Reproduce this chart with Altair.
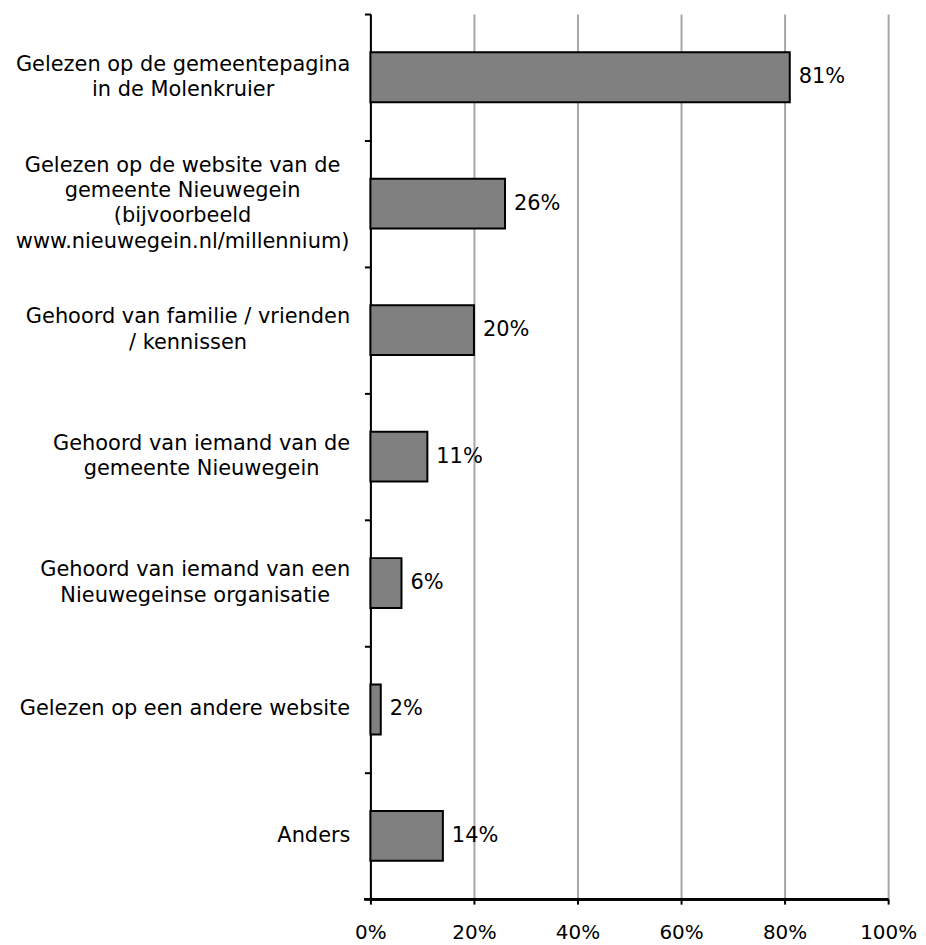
import altair as alt
import pandas as pd

categories = [
    "Gelezen op de gemeentepagina\nin de Molenkruier",
    "Gelezen op de website van de\ngemeente Nieuwegein\n(bijvoorbeeld\nwww.nieuwegein.nl/millennium)",
    "Gehoord van familie / vrienden\n/ kennissen",
    "Gehoord van iemand van de\ngemeente Nieuwegein",
    "Gehoord van iemand van een\nNieuwegeinse organisatie",
    "Gelezen op een andere website",
    "Anders",
]
values = [81, 26, 20, 11, 6, 2, 14]
x_ticks = [0, 20, 40, 60, 80, 100]

W, H = 520, 889
FONT = "DejaVu Sans"
FS = 21
LH = 25.5
STEP = H / len(categories)

# approximate DejaVu Sans advance widths (em) for centring wrapped label lines
_w = {" ": .318, "(": .390, ")": .390, ".": .318, "/": .337, "A": .684, "G": .775,
      "M": .863, "N": .748, "a": .613, "b": .635, "c": .550, "d": .635, "e": .615,
      "f": .352, "g": .635, "h": .634, "i": .278, "j": .278, "k": .579, "l": .278,
      "m": .974, "n": .634, "o": .612, "p": .635, "r": .411, "s": .521, "t": .392,
      "u": .634, "v": .592, "w": .818, "z": .525}


def text_w(s):
    return sum(_w.get(c, .6) for c in s) * FS


rows = []
for c, v in zip(categories, values):
    lines = c.split("\n")
    block = max(text_w(line) for line in lines)
    center_px = -20 - block / 2
    rows.append({"cat": c, "value": v, "label": f"{v}%",
                 "lx": center_px / W * 100, "n": len(lines)})
df = pd.DataFrame(rows)

y_axis = alt.Axis(title=None, labels=False, domainColor="black", domainWidth=2,
                  tickColor="black", tickWidth=2, tickSize=6, bandPosition=0.5,
                  tickOffset=-STEP / 2, grid=False)
y_enc = alt.Y("cat:N", sort=categories,
              scale=alt.Scale(paddingInner=0.606, paddingOuter=0.303),
              axis=y_axis)
x_scale = alt.Scale(domain=[0, 100], nice=False)

bars = alt.Chart(df).mark_bar(color="#808080", stroke="black", strokeWidth=2).encode(
    x=alt.X("value:Q", scale=x_scale,
            axis=alt.Axis(title=None, values=x_ticks, labelExpr="datum.value + '%'",
                          grid=True, gridColor="#a6a6a6", gridWidth=2,
                          domain=True, domainColor="black", domainWidth=2,
                          tickColor="black", tickWidth=2, tickSize=5,
                          labelPadding=19, labelFlush=False,
                          labelFont=FONT, labelFontSize=20, labelColor="black")),
    y=y_enc,
)

# x-axis baseline, extended left to form the last category boundary tick
base_line = alt.Chart(df).mark_rule(color="black", strokeWidth=2).encode(
    x=alt.value(-6), x2=alt.value(W), y=alt.value(H))

vals = alt.Chart(df).mark_text(align="left", baseline="middle", dx=9, font=FONT,
                               fontSize=FS, color="black").encode(
    x=alt.X("value:Q", scale=x_scale), y=y_enc, text="label:N")

cat_layers = []
for n in sorted(set(df["n"])):
    cat_layers.append(
        alt.Chart(df).transform_filter(alt.datum.n == n).mark_text(
            align="center", baseline="middle", font=FONT, fontSize=FS,
            color="black", lineBreak="\n", lineHeight=LH,
            dy=-(n - 1) * LH / 2).encode(
            x=alt.X("lx:Q", scale=x_scale), y=y_enc, text="cat:N"))

chart = alt.layer(bars, base_line, vals, *cat_layers).properties(
    width=W, height=H,
    autosize=alt.AutoSizeParams(type="none"),
    padding={"left": 364, "top": 4, "right": 30, "bottom": 44},
).configure_view(stroke=None).configure_axis(labelFont=FONT)

chart.save("out.html", embed_options={"renderer": "svg", "actions": False})
